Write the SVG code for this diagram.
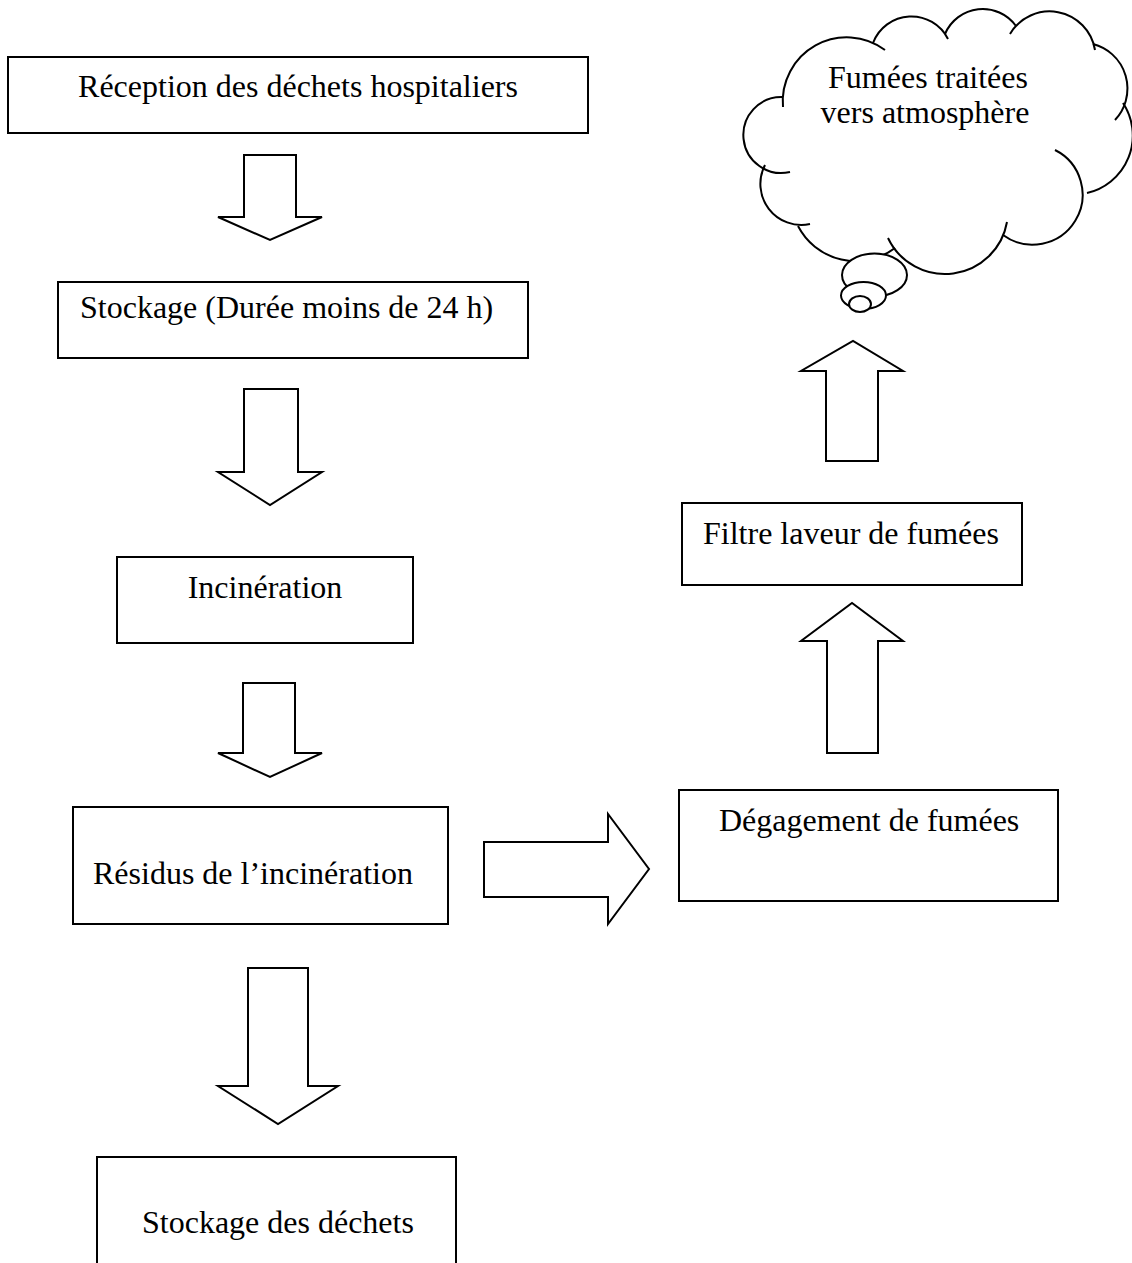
<svg xmlns="http://www.w3.org/2000/svg" width="1132" height="1263" viewBox="0 0 1132 1263">
  <style>
    .box { fill: #fff; stroke: #000; stroke-width: 2; }
    .arrow { fill: #fff; stroke: #000; stroke-width: 2; stroke-linejoin: miter; }
    .arc { fill: none; stroke: #000; stroke-width: 2; }
    .bubble { fill: #fff; stroke: #000; stroke-width: 2; }
    .lbl { font-family: "Liberation Serif", "Times New Roman", serif; font-size: 32px; fill: #000; }
  </style>
  <rect width="1132" height="1263" fill="#fff"/>

  <!-- block arrows between steps -->
  <g id="connectors">
    <polygon class="arrow" points="244,155 296,155 296,217 322,217 270,240 218,217 244,217"/>
    <polygon class="arrow" points="244,389 298,389 298,472 322,472 270,505 218,472 244,472"/>
    <polygon class="arrow" points="243,683 295,683 295,753 322,753 270,777 218,753 243,753"/>
    <polygon class="arrow" points="248,968 308,968 308,1086 338,1086 278,1124 218,1086 248,1086"/>
    <polygon class="arrow" points="484,842 608,842 608,814 649,869 608,924 608,897 484,897"/>
    <polygon class="arrow" points="827,753 878,753 878,641 903,641 852,603 801,641 827,641"/>
    <polygon class="arrow" points="826,461 878,461 878,371 903,371 853,341 801,371 826,371"/>
  </g>

  <g id="reception">
    <rect class="box" x="8" y="57" width="580" height="76"/>
    <text class="lbl" x="298" y="97" text-anchor="middle">Réception des déchets hospitaliers</text>
  </g>

  <g id="stockage-24h">
    <rect class="box" x="58" y="282" width="470" height="76"/>
    <text class="lbl" x="80" y="318">Stockage (Durée moins de 24 h)</text>
  </g>

  <g id="incineration">
    <rect class="box" x="117" y="557" width="296" height="86"/>
    <text class="lbl" x="265" y="598" text-anchor="middle">Incinération</text>
  </g>

  <g id="residus">
    <rect class="box" x="73" y="807" width="375" height="117"/>
    <text class="lbl" x="93" y="884">Résidus de l’incinération</text>
  </g>

  <g id="stockage-dechets">
    <rect class="box" x="97" y="1157" width="359" height="120"/>
    <text class="lbl" x="142" y="1233">Stockage des déchets</text>
  </g>

  <g id="degagement">
    <rect class="box" x="679" y="790" width="379" height="111"/>
    <text class="lbl" x="719" y="831">Dégagement de fumées</text>
  </g>

  <g id="filtre">
    <rect class="box" x="682" y="503" width="340" height="82"/>
    <text class="lbl" x="703" y="544">Filtre laveur de fumées</text>
  </g>

  <!-- thought cloud: lobes drawn as separate arcs, then the tail bubbles -->
  <g id="fumees-traitees">
    <path class="arc" d="M 783 107 A 64 64 0 0 1 885 50"/>
    <path class="arc" d="M 873 43 A 41 41 0 0 1 948 39"/>
    <path class="arc" d="M 945 34 A 41 41 0 0 1 1016 26"/>
    <path class="arc" d="M 1010 34 A 46 46 0 0 1 1095 50"/>
    <path class="arc" d="M 1093 44 A 46 46 0 0 1 1115 120"/>
    <path class="arc" d="M 1123 103 A 59 59 0 0 1 1087 193"/>
    <path class="arc" d="M 1055 150 A 50 50 0 1 1 1003 235"/>
    <path class="arc" d="M 1007 222 A 63 63 0 0 1 888 238"/>
    <path class="arc" d="M 895 248 A 65 65 0 0 1 798 226"/>
    <path class="arc" d="M 810 224 A 41 41 0 0 1 765 165"/>
    <path class="arc" d="M 790 172 A 38 38 0 1 1 782 97"/>
    <ellipse class="bubble" cx="874.5" cy="275" rx="32.5" ry="21.5"/>
    <ellipse class="bubble" cx="863.5" cy="295.5" rx="22.5" ry="13.5"/>
    <ellipse class="bubble" cx="860" cy="304" rx="11" ry="8"/>
    <text class="lbl" x="928" y="88" text-anchor="middle">Fumées traitées</text>
    <text class="lbl" x="925" y="123" text-anchor="middle">vers atmosphère</text>
  </g>
</svg>
